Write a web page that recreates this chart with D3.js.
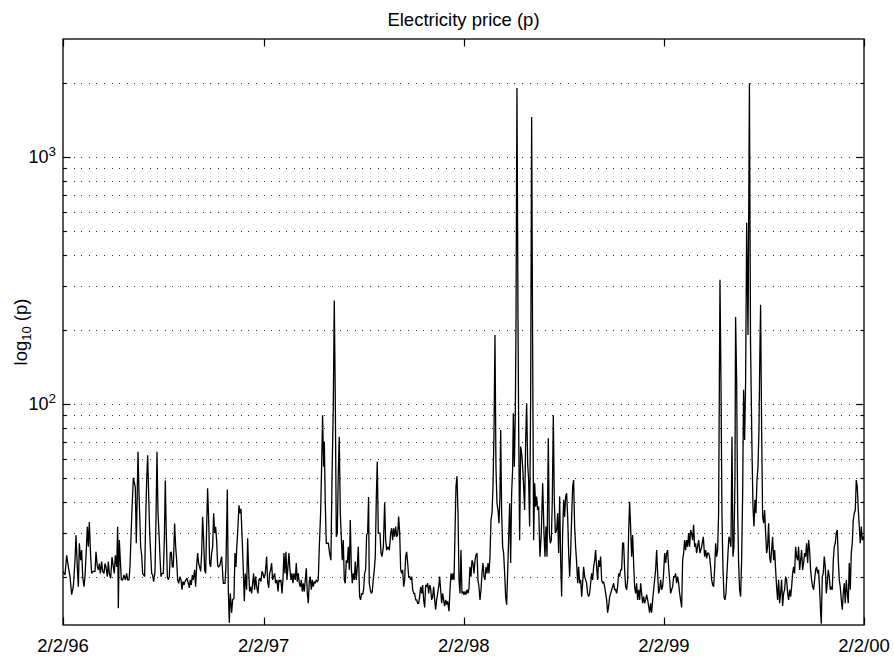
<!DOCTYPE html>
<html><head><meta charset="utf-8">
<script src="https://cdn.jsdelivr.net/npm/d3@7"></script>
<style>
body{margin:0;background:#fff}
svg{display:block}
text{font-family:"Liberation Sans",Arial,Helvetica,sans-serif;fill:#000}
</style>
</head><body>
<svg id="chart" width="894" height="658"></svg>
<script>
const titleText = "Electricity price (p)";
const startDate = "1996-02-02";
const endDate = "2000-02-02";
const xTickDates = ["1996-02-02","1997-02-02","1998-02-02","1999-02-02","2000-02-02"];
const xTickLabels = ["2/2/96","2/2/97","2/2/98","2/2/99","2/2/00"];
const yMajorValues = [100, 1000];
const yMajorExponents = ["2", "3"];
const yDomain = [12.74, 3000];

// days after 2/2/96
const days = [
0,3.6,6.7,9.7,12.8,15.8,18.8,21.9,23.7,26.1,28,29.8,32.2,34,35.9,38.3,40.1,41.9,44.4,46.2,48,50.5,52.3,55.3,58.4,60.2,62.6,64.4,66.3,68.1,70.5,72.3,74.8,76.6,78.4,80.9,82.7,84.5,86.9,89.4,91.8,93.6,95.4,97.9,99.7,100.9,102.7,104.6,106.4,108.8,111.2,113.7,116.1,117.9,120.4,122.2,124,125.8,128.3,130.1,131.9,133.7,135,136.8,138.6,140.4,141.6,143.5,145.3,147.1,148.9,150.8,152.6,154.4,156.2,158.1,159.9,161.7,163.5,165.3,167.8,169.6,171.4,173.3,175.1,176.9,178.7,180.5,183,184.8,186.6,188.4,190.3,192.1,193.9,195.7,197.6,199.4,201.2,203.6,205.5,207.3,209.1,210.9,213.4,215.2,217,218.8,220.7,222.5,224.3,226.1,228.6,230.4,232.2,234,235.9,237.7,240.1,241.9,243.8,245.6,247.4,249.2,251.1,252.9,254.7,256.5,258.4,260.2,262,263.8,265.7,267.5,269.3,271.1,272.9,274.8,276.6,278.4,280.2,282.1,283.9,
286.3,289.3,292.4,295.4,297.2,299.7,301.5,303.3,305.1,307.6,309.4,311.8,313.7,315.5,316.7,318.5,321,322.8,324.6,326.4,328.9,330.7,332.5,334.9,336.8,338.6,340.4,342.2,344.1,345.9,347.7,349.5,351.3,353.2,355.6,357.4,359.2,361.1,362.9,364.7,366.5,369,371.4,373.2,375.1,376.9,378.7,380.5,382.3,384.2,386,387.8,390.3,392.1,393.9,395.7,397.5,399.4,401.2,403,404.8,406.7,408.5,410.3,412.1,414,415.8,417.6,419.4,421.3,423.7,425.5,427.3,429.2,431,432.8,434.6,436.5,438.3,440.1,441.9,443.8,445.6,447.4,449.2,451,452.9,454.7,456.5,458.3,460.2,462,463.8,465.6,467.5,469.9,471.7,473.5,475.4,476.6,478.4,480.2,482.1,483.9,486.3,488.7,490.6,493,494.8,496.6,498.5,500.3,502.1,503.9,505.8,507.6,509.4,511.2,513.1,514.9,516.7,518.5,520.3,522.2,524,525.8,527.6,529.5,531.3,533.1,534.9,536.8,538.6,541,542.8,544.7,546.5,548.3,550.1,552,553.8,555.6,557.4,558.6,560.5,562.3,564.1,565.9,567.8,569.6,571.4,573.2,575.1,576.9,
578.2,580,581.9,584.3,586.7,588.5,590.4,592.8,595.2,597.7,599.5,601.3,603.1,604.9,606.8,608.6,610.4,612.2,614.1,615.9,617.7,619.5,621.4,623.2,625,626.8,628.7,630.5,632.3,634.1,636,637.8,639.6,641.4,643.2,645.1,646.9,648.7,650.5,652.4,654.2,656,657.8,659.7,661.5,663.3,665.1,667,668.8,670.6,672.4,674.2,676.1,677.9,679.7,681.5,683.4,685.2,687,688.8,690.7,692.5,694.3,696.1,698,699.8,701.6,704,705.9,707.7,709.5,711.3,713.2,715,716.8,718.6,720.5,722.3,724.1,725.9,727.7,729.6,731.4,733.2,735,736.9,738.7,740.5,742.3,744.2,746,747.8,749.6,751.5,753.3,755.1,756.9,758.7,760.6,762.4,764.2,766,767.9,769.7,771.5,773.3,775.2,777,778.8,780.6,782.5,784.3,786.1,787.9,789.7,791.6,793.4,795.2,797,798.3,800.1,801.9,803.7,805.6,807.4,809.2,811,812.9,814.7,816.5,818.3,820.1,821.4,823.2,825,826.2,828,829.9,831.1,832.9,834.7,836.6,838.4,840.2,842,843.9,845.7,847.5,849.3,851.1,853,854.8,856.6,858.4,860.3,862.1,863.9,865.7,867.6,869.4,
870,872.4,874.9,877.3,879.1,880.9,882.8,884,885.2,887,888.8,890.7,892.5,894.3,896.1,898,900.4,902.2,904,905.9,907.7,909.5,911.3,913.2,915,916.8,918.6,920.5,922.3,924.1,925.9,927.8,929.6,931.4,933.2,935,936.9,938.7,940.5,942.3,944.2,946,947.8,949.6,951.5,953.3,955.1,956.9,958.8,960.6,962.4,964.2,966,967.9,969.7,971.5,973.3,975.2,977,978.8,980.6,982.5,984.3,986.1,987.9,989.8,991.6,993.4,995.2,997.1,998.9,1000.7,1002.5,1004.3,1006.2,1008,1009.8,1011.6,1013.5,1015.3,1017.1,1018.9,1020.8,1022.6,1024.4,1026.2,1028.1,1029.9,1031.7,1033.5,1035.3,1037.2,1039,1040.8,1042.6,1044.5,1046.3,1048.1,1049.9,1051.8,1053.6,1055.4,1057.2,1059.1,1060.9,1062.7,1064.5,1066.4,1068.2,1070,1071.8,1073.6,1075.5,1077.3,1079.1,1080.9,1082.8,1084.6,1086.4,1088.2,1090.1,1091.9,1093.7,1095.5,1097.4,1099.2,1101,1102.8,1104.6,1106.5,1108.3,1110.1,1111.9,1113.8,1115.6,1117.4,1119.2,1121.1,1122.9,1124.7,1126.5,1128.4,1130.2,1132,1133.8,1135.7,1137.5,1139.3,1141.1,1142.9,1144.8,1146.6,1148.4,1150.2,1152.1,1153.9,1155.7,1157.5,1159.4,
1161.8,1164.8,1167.9,1170.3,1172.1,1174,1175.8,1177.6,1179.4,1181.3,1183.1,1184.9,1186.7,1188.5,1190.4,1192.2,1194,1195.8,1198.3,1200.1,1201.9,1203.7,1205.6,1207.4,1209.2,1211,1212.9,1214.7,1216.5,1218.3,1220.2,1222,1223.8,1225.6,1226.8,1228.7,1230.5,1232.3,1234.1,1236,1237.8,1239.6,1241.4,1243.3,1245.1,1247,1249.5,1252,1254,1256.6,1258.5,1260.3,1262.1,1263.9,1265.8,1267.6,1269.4,1271.2,1272.4,1274.3,1276.1,1277.9,1279.7,1281.6,1283.4,1285.2,1287,1288.9,1290.7,1292.5,1294.3,1296.2,1298,1299.8,1301.6,1303.4,1305.3,1307.1,1308.9,1310.7,1312.6,1314.4,1316.2,1318,1319.9,1321.7,1323.5,1325.3,1327.2,1329,1330.8,1332.6,1334.4,1336.3,1338.1,1339.9,1341.7,1343.6,1345.4,1347.2,1349,1350.9,1352.7,1354.5,1356.3,1358.2,1360,1361.8,1363.6,1365.4,1367.3,1369.1,1370.9,1372.7,1374.6,1376.4,1378.2,1380,1381.9,1383.1,1384.9,1386.7,1388.5,1390.4,1392.2,1394,1395.8,1397.7,1399.5,1401.3,1403.1,1405,1406.8,1408.6,1410.4,1412.3,1414.1,1415.9,1417.7,1419.6,1421.4,1423.2,1425,1426.8,1428.7,1430.5,1432.3,1434.1,1436,1437.8,1439.6,1441.4,1443.3,1445.1,1446.9,1448.7,1450.6,1452.4,1454.2,1456,1457.9,1459.7,1461
];

const prices = [
21.0,20.3,24.4,21.9,20.0,16.9,18.2,23.3,29.4,21.9,18.2,27.3,23.3,25.6,20.0,18.2,20.0,24.0,31.8,26.4,33.3,24.0,20.6,21.0,21.0,25.2,22.0,21.3,22.6,20.6,23.0,21.0,20.6,22.6,21.9,20.0,23.0,20.6,19.7,24.0,21.9,20.6,24.4,21.9,31.8,14.9,28.1,23.3,19.4,19.4,20.3,19.4,20.6,19.4,19.4,21.9,29.0,37.2,50.2,48.0,46.0,27.3,38.4,64.0,43.6,32.8,26.4,24.4,20.6,20.3,20.0,33.9,49.0,62.0,43.6,30.0,24.9,20.6,20.3,19.1,21.0,33.9,64.0,36.1,30.0,24.0,20.0,20.6,20.6,28.1,49.0,30.0,20.0,19.4,20.0,24.9,25.2,21.9,21.9,32.8,26.4,23.3,19.4,18.8,20.0,19.4,17.7,19.1,18.5,19.1,19.4,19.7,18.8,18.0,19.4,18.5,20.3,19.4,21.3,18.2,22.2,24.9,22.6,21.9,21.0,24.9,34.9,28.1,21.3,20.6,31.8,45.6,33.9,22.6,21.9,24.9,26.4,36.1,30.0,31.8,28.1,22.2,21.9,
22.3,24.1,18.8,18.8,21.9,45.0,17.7,13.0,17.1,14.3,16.1,16.3,24.9,21.9,25.6,30.0,38.9,36.1,37.6,30.0,21.3,15.9,20.6,17.7,28.6,21.3,17.4,18.2,17.1,18.8,20.6,17.7,20.0,18.2,17.1,19.4,19.7,19.1,21.0,20.6,19.7,20.6,24.1,19.1,18.0,20.6,21.3,22.7,19.4,20.0,20.6,18.8,19.4,17.4,19.4,19.1,19.4,17.1,19.4,24.9,20.6,25.2,19.4,21.9,24.9,21.3,19.4,20.6,18.8,20.6,19.4,22.7,19.1,20.6,18.8,18.2,19.4,17.4,18.8,17.4,19.4,21.6,17.1,15.6,19.1,20.0,17.7,19.4,18.2,19.1,18.8,19.4,19.1,19.4,26.4,36.1,55.7,90.0,55.7,70.4,39.6,27.3,27.3,27.3,24.9,23.3,49.2,97.5,262,107,29.0,30.0,52.4,73.7,36.1,29.0,23.3,28.1,19.4,18.8,23.3,22.7,26.4,21.3,33.9,21.9,18.8,20.6,19.4,23.0,19.4,21.9,26.4,16.6,16.1,17.1,16.9,17.7,20.6,21.3,29.5,30.0,42.0,18.8,17.7,17.1,17.4,19.4,21.3,24.1,40.9,58.4,30.0,30.0,
30.0,24.9,24.1,26.4,39.9,28.1,25.6,26.4,25.6,30.0,31.4,28.1,31.4,29.0,31.9,29.0,29.5,35.0,30.0,21.3,20.6,21.3,18.2,19.4,24.1,25.2,22.7,20.0,20.0,19.4,20.0,17.7,17.1,17.1,16.1,16.1,15.6,15.6,16.6,18.2,17.1,18.5,16.1,15.0,18.5,18.2,18.8,17.1,18.5,17.9,16.1,16.6,18.2,16.1,14.7,16.1,17.1,18.2,20.0,17.7,15.6,17.1,16.1,15.2,16.1,15.4,15.9,14.5,17.7,20.6,19.4,20.6,19.4,30.0,46.3,51.0,36.1,19.4,17.1,25.6,17.1,17.4,16.9,17.4,16.9,17.7,17.1,17.9,21.9,20.0,23.3,22.7,20.6,23.3,24.5,24.9,19.4,18.2,16.1,17.7,20.6,22.7,20.0,19.4,21.9,20.6,22.7,20.6,24.1,33.9,36.1,46.3,76.0,190,55.7,39.6,37.2,32.9,42.2,78.5,36.1,26.4,24.9,20.6,16.6,15.4,20.6,29.0,39.6,22.7,43.5,54.1,91.7,55.7,91.7,199,1900,219,81,28.1,67.2,63.2,55.7,46.3,37.2,71.5,100.6,57.5,49.2,31.9,107,1450,170,28.1,47.7,38.4,42.2,37.2,38.4,26.4,
24.1,30.0,47.7,30.0,24.1,31.9,24.1,42.2,72.6,30.0,27.3,28.1,40.9,90.0,40.9,30.0,30.9,36.1,24.9,42.2,23.3,16.6,30.0,40.9,34.9,42.2,43.5,34.9,24.9,20.0,24.9,34.9,46.3,49.2,31.9,26.4,22.7,18.8,21.9,18.8,19.4,16.6,18.8,21.9,20.0,19.4,18.8,17.1,16.6,17.1,18.8,20.6,19.4,21.9,23.3,25.6,21.9,19.4,23.3,21.9,24.1,19.4,18.8,19.1,18.2,17.1,16.1,14.3,15.2,16.6,17.1,17.7,18.2,18.8,17.7,17.7,17.1,18.2,20.6,20.0,21.3,21.3,27.3,27.3,21.3,18.2,17.7,19.4,30.0,40.2,31.9,24.1,29.5,22.7,18.2,17.1,18.8,16.1,17.7,16.1,18.8,17.1,15.6,16.6,15.6,16.1,16.9,16.1,15.2,14.3,15.6,14.3,16.1,17.7,19.4,21.3,25.6,20.6,17.1,17.7,19.4,17.7,18.2,20.6,24.9,22.7,24.9,25.6,21.9,19.4,17.1,17.7,18.2,20.0,20.0,20.6,18.8,20.0,18.8,17.1,16.1,15.0,23.3,24.9,28.1,25.6,28.1,26.4,30.0,26.4,30.9,30.0,28.1,32.4,26.4,27.3,24.9,26.4,28.1,
24.9,26.4,29.0,24.1,25.6,23.7,24.9,24.9,24.1,21.9,19.4,18.5,18.2,21.3,27.3,24.1,25.6,36.1,318,125,36.1,21.9,16.6,16.1,17.1,20.6,24.9,29.0,28.1,26.4,73.7,24.1,26.4,49.2,225,125,38.4,22.7,17.7,16.6,23.3,42.2,114,71.5,125,541,190,1986,178,67.2,38.4,31.9,40.9,36.1,49.2,55.7,78.5,170,252,78.5,35.0,32.9,37.2,30.0,24.9,26.4,32.9,24.1,22.7,25.6,29.0,23.3,25.6,21.3,18.2,16.1,19.4,15.6,17.1,19.4,15.2,17.1,17.7,20.0,19.4,17.1,16.1,17.7,16.6,18.2,20.6,21.9,20.6,26.4,24.1,23.3,26.4,21.3,23.3,25.6,21.3,22.7,24.9,24.1,27.3,22.7,28.1,25.6,21.3,19.4,18.2,17.7,19.4,21.3,21.9,20.6,21.3,17.9,14.3,12.9,20.0,20.6,24.1,21.9,17.1,18.8,21.3,20.0,17.7,18.2,17.7,23.3,26.4,27.3,30.0,30.9,23.3,19.4,18.2,16.1,14.7,17.1,18.8,15.6,19.4,17.1,15.6,22.7,17.7,24.9,27.3,33.9,36.1,37.2,49.2,46.3,37.2,31.9,27.3,31.9,28.1,29.0,28.1
];

const svg = d3.select("#chart");
const plot = {left: 63, right: 864, top: 39, bottom: 625};
const DAY = 864e5;
const t0 = new Date(startDate + "T00:00:00Z");
const x = d3.scaleUtc()
  .domain([t0, new Date(endDate + "T00:00:00Z")])
  .range([plot.left, plot.right]);
const y = d3.scaleLog().domain(yDomain).range([plot.bottom, plot.top]);

const data = days.map((d, i) => ({date: new Date(t0.getTime() + d * DAY), value: prices[i]}));

// grid (dotted)
const gridVals = y.ticks().filter(v => v > yDomain[0] && v < yDomain[1] * 0.999);
svg.append("g").selectAll("line").data(gridVals).join("line")
  .attr("x1", plot.left).attr("x2", plot.right)
  .attr("y1", d => Math.round(y(d)) + 0.5).attr("y2", d => Math.round(y(d)) + 0.5)
  .attr("stroke", "#333").attr("stroke-width", 1)
  .attr("stroke-dasharray", "1 6.6").attr("stroke-dashoffset", 4.6)
  .attr("shape-rendering", "crispEdges");

// clip
svg.append("clipPath").attr("id", "clip").append("rect")
  .attr("x", plot.left).attr("y", plot.top)
  .attr("width", plot.right - plot.left).attr("height", plot.bottom - plot.top);

const line = d3.line().x(d => x(d.date)).y(d => y(d.value));
svg.append("path").datum(data)
  .attr("clip-path", "url(#clip)")
  .attr("d", line)
  .attr("fill", "none").attr("stroke", "#000")
  .attr("stroke-width", 1.3).attr("stroke-linejoin", "miter").attr("stroke-miterlimit", 2);

// box
svg.append("rect")
  .attr("x", plot.left).attr("y", plot.top)
  .attr("width", plot.right - plot.left).attr("height", plot.bottom - plot.top)
  .attr("fill", "none").attr("stroke", "#000").attr("stroke-width", 1.3);

// y ticks (left & right, inward)
const ticksG = svg.append("g").attr("stroke", "#000").attr("stroke-width", 1.2);
gridVals.forEach(v => {
  const major = yMajorValues.includes(v);
  const len = major ? 7.5 : 3.5;
  const yy = Math.round(y(v)) + 0.5;
  ticksG.append("line").attr("x1", plot.left).attr("x2", plot.left + len).attr("y1", yy).attr("y2", yy);
  ticksG.append("line").attr("x1", plot.right).attr("x2", plot.right - len).attr("y1", yy).attr("y2", yy);
});
// x ticks (bottom & top, inward)
const xTicks = xTickDates.map(s => new Date(s + "T00:00:00Z"));
xTicks.forEach(t => {
  const xx = Math.round(x(t)) + 0.5;
  ticksG.append("line").attr("x1", xx).attr("x2", xx).attr("y1", plot.bottom).attr("y2", plot.bottom - 7.5);
  ticksG.append("line").attr("x1", xx).attr("x2", xx).attr("y1", plot.top).attr("y2", plot.top + 7.5);
});

// x tick labels
svg.append("g").selectAll("text").data(xTicks).join("text")
  .attr("x", d => x(d)).attr("y", 652)
  .attr("text-anchor", "middle").attr("font-size", "18.5px")
  .text((d, i) => xTickLabels[i]);

// y tick labels 10^n
yMajorValues.forEach((v, i) => {
  svg.append("text")
    .attr("x", 48.5).attr("y", y(v) + 6.5)
    .attr("text-anchor", "end").attr("font-size", "18px")
    .text("10");
  svg.append("text")
    .attr("x", 48.5).attr("y", y(v) - 0.5)
    .attr("font-size", "13.5px").text(yMajorExponents[i]);
});

// title
svg.append("text")
  .attr("x", (plot.left + plot.right) / 2).attr("y", 26)
  .attr("text-anchor", "middle").attr("font-size", "18.5px")
  .text(titleText);

// y axis label
const yl = svg.append("text")
  .attr("transform", `translate(27,${(plot.top + plot.bottom) / 2}) rotate(-90)`)
  .attr("text-anchor", "middle").attr("font-size", "18.5px");
yl.append("tspan").text("log");
yl.append("tspan").attr("font-size", "13px").attr("dy", 4).text("10");
yl.append("tspan").attr("dy", -4).text(" (p)");
</script>
</body></html>
